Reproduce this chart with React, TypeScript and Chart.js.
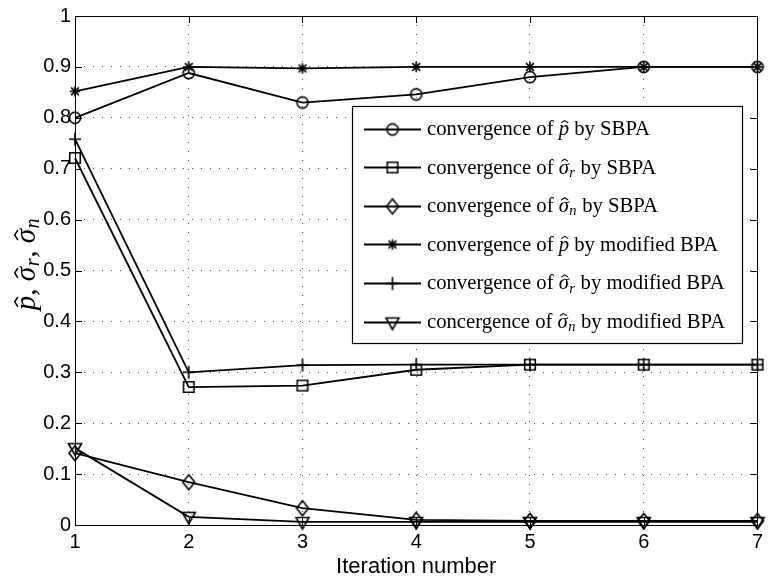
import React, { useEffect, useRef } from 'react';
import { Chart, registerables } from 'chart.js';

Chart.register(...registerables);

// Iteration index on the x axis
const iterations = [1, 2, 3, 4, 5, 6, 7];

// Estimates produced by the SBPA procedure
const pSbpa = [0.8, 0.888, 0.83, 0.846, 0.88, 0.9, 0.9];
const sigmaRSbpa = [0.721, 0.271, 0.274, 0.305, 0.315, 0.315, 0.315];
const sigmaNSbpa = [0.141, 0.084, 0.033, 0.01, 0.008, 0.008, 0.008];

// Estimates produced by the modified BPA procedure
const pModified = [0.852, 0.9, 0.897, 0.9, 0.9, 0.9, 0.9];
const sigmaRModified = [0.758, 0.3, 0.314, 0.315, 0.315, 0.315, 0.315];
const sigmaNModified = [0.151, 0.016, 0.006, 0.006, 0.006, 0.006, 0.006];

// Legend wording: prefix, estimated symbol, subscript, suffix
const legendPrefixes = [
  'convergence of ',
  'convergence of ',
  'convergence of ',
  'convergence of ',
  'convergence of ',
  'concergence of ',
];
const legendSymbols = ['p', 'σ', 'σ', 'p', 'σ', 'σ'];
const legendSubscripts = ['', 'r', 'n', '', 'r', 'n'];
const legendSuffixes = [
  ' by SBPA',
  ' by SBPA',
  ' by SBPA',
  ' by modified BPA',
  ' by modified BPA',
  ' by modified BPA',
];

const xAxisTitle = 'Iteration number';

type MarkerKind = 'circle' | 'square' | 'diamond' | 'star' | 'plus' | 'triangleDown';
const markerKinds: MarkerKind[] = ['circle', 'square', 'diamond', 'star', 'plus', 'triangleDown'];

const SANS = '"Liberation Sans", Arial, sans-serif';
const SERIF = '"Liberation Serif", "Times New Roman", serif';

function makeMarker(kind: MarkerKind): HTMLCanvasElement {
  const size = 22;
  const c = document.createElement('canvas');
  c.width = size;
  c.height = size;
  const g = c.getContext('2d')!;
  const m = size / 2;
  g.strokeStyle = '#000';
  g.lineWidth = 1.6;
  g.beginPath();
  switch (kind) {
    case 'circle':
      g.arc(m, m, 5.6, 0, Math.PI * 2);
      break;
    case 'square':
      g.rect(m - 5.3, m - 5.3, 10.6, 10.6);
      break;
    case 'diamond':
      g.moveTo(m, m - 7.5);
      g.lineTo(m + 6, m);
      g.lineTo(m, m + 7.5);
      g.lineTo(m - 6, m);
      g.closePath();
      break;
    case 'star': {
      const r = 5.2;
      const d = r * 0.75;
      g.moveTo(m - r, m);
      g.lineTo(m + r, m);
      g.moveTo(m, m - r);
      g.lineTo(m, m + r);
      g.moveTo(m - d, m - d);
      g.lineTo(m + d, m + d);
      g.moveTo(m - d, m + d);
      g.lineTo(m + d, m - d);
      break;
    }
    case 'plus':
      g.moveTo(m - 6, m);
      g.lineTo(m + 6, m);
      g.moveTo(m, m - 6.5);
      g.lineTo(m, m + 6.5);
      break;
    case 'triangleDown':
      g.moveTo(m - 6.5, m - 4.5);
      g.lineTo(m + 6.5, m - 4.5);
      g.lineTo(m, m + 7);
      g.closePath();
      break;
  }
  g.stroke();
  return c;
}

// Writes an italic symbol with a hat accent and optional subscript; returns its advance
function drawHatSymbol(
  ctx: CanvasRenderingContext2D,
  x: number,
  baseline: number,
  size: number,
  letter: string,
  sub: string,
  draw: boolean
): number {
  ctx.font = `italic ${size}px ${SERIF}`;
  const w = ctx.measureText(letter).width;
  if (draw) {
    ctx.fillText(letter, x, baseline);
    const cx = x + w * 0.58;
    const hw = size * 0.17;
    const top = baseline - size * 0.7;
    ctx.save();
    ctx.lineWidth = Math.max(1, size * 0.05);
    ctx.beginPath();
    ctx.moveTo(cx - hw, top + size * 0.11);
    ctx.lineTo(cx, top);
    ctx.lineTo(cx + hw, top + size * 0.11);
    ctx.stroke();
    ctx.restore();
  }
  let adv = w;
  if (sub) {
    const subSize = size * 0.7;
    ctx.font = `italic ${subSize}px ${SERIF}`;
    const sw = ctx.measureText(sub).width;
    if (draw) ctx.fillText(sub, x + w + size * 0.02, baseline + size * 0.15);
    adv += sw + size * 0.04;
  }
  return adv;
}

function drawRoman(
  ctx: CanvasRenderingContext2D,
  x: number,
  baseline: number,
  size: number,
  text: string,
  draw: boolean
): number {
  ctx.font = `${size}px ${SERIF}`;
  if (draw) ctx.fillText(text, x, baseline);
  return ctx.measureText(text).width;
}

function layoutYLabel(ctx: CanvasRenderingContext2D, x: number, size: number, draw: boolean): number {
  let cx = x;
  cx += drawHatSymbol(ctx, cx, 0, size, 'p', '', draw);
  cx += drawRoman(ctx, cx, 0, size, ', ', draw);
  cx += drawHatSymbol(ctx, cx, 0, size, 'σ', 'r', draw);
  cx += drawRoman(ctx, cx, 0, size, ', ', draw);
  cx += drawHatSymbol(ctx, cx, 0, size, 'σ', 'n', draw);
  return cx - x;
}

export default function App() {
  const canvasRef = useRef<HTMLCanvasElement>(null);

  useEffect(() => {
    document.body.style.margin = '0';
    const canvas = canvasRef.current;
    if (!canvas) return;
    const markers = markerKinds.map(makeMarker);

    const series = [pSbpa, sigmaRSbpa, sigmaNSbpa, pModified, sigmaRModified, sigmaNModified];

    const datasets = series.map((values, i) => ({
      label: legendPrefixes[i] + legendSymbols[i] + legendSubscripts[i] + legendSuffixes[i],
      data: iterations.map((x, k) => ({ x, y: values[k] })),
      borderColor: '#000',
      borderWidth: 1.8,
      backgroundColor: 'transparent',
      pointStyle: markers[i],
      pointRadius: 6,
      pointHoverRadius: 6,
      tension: 0,
      clip: false as const,
    }));

    const framePlugin = {
      id: 'frameAndLegend',
      afterDraw(chart: Chart) {
        const ctx = chart.ctx;
        const { left, right, top, bottom } = chart.chartArea;
        const xs = chart.scales.x;
        const ys = chart.scales.y;
        ctx.save();
        ctx.strokeStyle = '#000';
        ctx.lineWidth = 1;
        // axes box
        ctx.strokeRect(Math.round(left) + 0.5, Math.round(top) + 0.5, Math.round(right - left), Math.round(bottom - top));
        // inward tick marks on all four sides
        const tl = 7;
        ctx.beginPath();
        xs.ticks.forEach((t) => {
          const px = Math.round(xs.getPixelForValue(t.value)) + 0.5;
          ctx.moveTo(px, bottom);
          ctx.lineTo(px, bottom - tl);
          ctx.moveTo(px, top);
          ctx.lineTo(px, top + tl);
        });
        ys.ticks.forEach((t) => {
          const py = Math.round(ys.getPixelForValue(t.value)) + 0.5;
          ctx.moveTo(left, py);
          ctx.lineTo(left + tl, py);
          ctx.moveTo(right, py);
          ctx.lineTo(right - tl, py);
        });
        ctx.stroke();

        // x axis title
        ctx.fillStyle = '#000';
        ctx.font = `22px ${SANS}`;
        ctx.textAlign = 'center';
        ctx.textBaseline = 'alphabetic';
        ctx.fillText(xAxisTitle, (left + right) / 2, 573);

        // y axis title, rotated
        ctx.textAlign = 'left';
        const ySize = 29;
        const w = layoutYLabel(ctx, 0, ySize, false);
        ctx.save();
        ctx.translate(35, 264);
        ctx.rotate(-Math.PI / 2);
        ctx.strokeStyle = '#000';
        layoutYLabel(ctx, -w / 2, ySize, true);
        ctx.restore();

        // legend box
        const lx = 352;
        const ly = 106;
        const lw = 390;
        const lh = 237;
        ctx.fillStyle = '#fff';
        ctx.fillRect(lx, ly, lw, lh);
        ctx.strokeStyle = '#000';
        ctx.lineWidth = 1.2;
        ctx.strokeRect(lx + 0.5, ly + 0.5, lw, lh);
        ctx.fillStyle = '#000';
        const rowStart = 128.5;
        const rowGap = 38.6;
        const fs = 20.7;
        markerKinds.forEach((_, i) => {
          const cy = rowStart + i * rowGap;
          ctx.lineWidth = 1.8;
          ctx.beginPath();
          ctx.moveTo(364, Math.round(cy) + 0.5);
          ctx.lineTo(421, Math.round(cy) + 0.5);
          ctx.stroke();
          const mk = markers[i];
          ctx.drawImage(mk, 392.5 - mk.width / 2, Math.round(cy) + 0.5 - mk.height / 2);
          const base = cy + 6.5;
          let tx = 427;
          tx += drawRoman(ctx, tx, base, fs, legendPrefixes[i], true);
          tx += drawHatSymbol(ctx, tx, base, fs, legendSymbols[i], legendSubscripts[i], true);
          drawRoman(ctx, tx, base, fs, legendSuffixes[i], true);
        });
        ctx.restore();
      },
    };

    const tickFont = { family: SANS, size: 20 };

    const chart = new Chart(canvas, {
      type: 'line',
      data: { datasets },
      options: {
        responsive: false,
        animation: false,
        devicePixelRatio: 1,
        layout: { padding: { top: 12, right: 5, left: 0, bottom: 0 } },
        plugins: {
          legend: { display: false },
          tooltip: { enabled: false },
        },
        scales: {
          x: {
            type: 'linear',
            min: 1,
            max: 7,
            ticks: { stepSize: 1, font: tickFont, color: '#000', padding: 5, maxRotation: 0 },
            grid: { color: '#555', lineWidth: 1, drawTicks: false },
            border: { display: false, dash: [1, 8] },
            afterFit: (s: any) => {
              s.height = 54;
            },
          },
          y: {
            type: 'linear',
            min: 0,
            max: 1,
            ticks: {
              stepSize: 0.1,
              font: tickFont,
              color: '#000',
              padding: 4,
              callback: (v: any) => Number(v).toFixed(1).replace(/\.0$/, ''),
            },
            grid: { color: '#555', lineWidth: 1, drawTicks: false },
            border: { display: false, dash: [1, 8] },
            afterFit: (s: any) => {
              s.width = 75;
            },
          },
        },
      },
      plugins: [framePlugin],
    });

    return () => chart.destroy();
  }, []);

  return (
    <div style={{ position: 'absolute', left: 0, top: 0, width: 768, height: 579, background: '#fff' }}>
      <canvas ref={canvasRef} width={768} height={579} style={{ display: 'block' }} />
    </div>
  );
}
